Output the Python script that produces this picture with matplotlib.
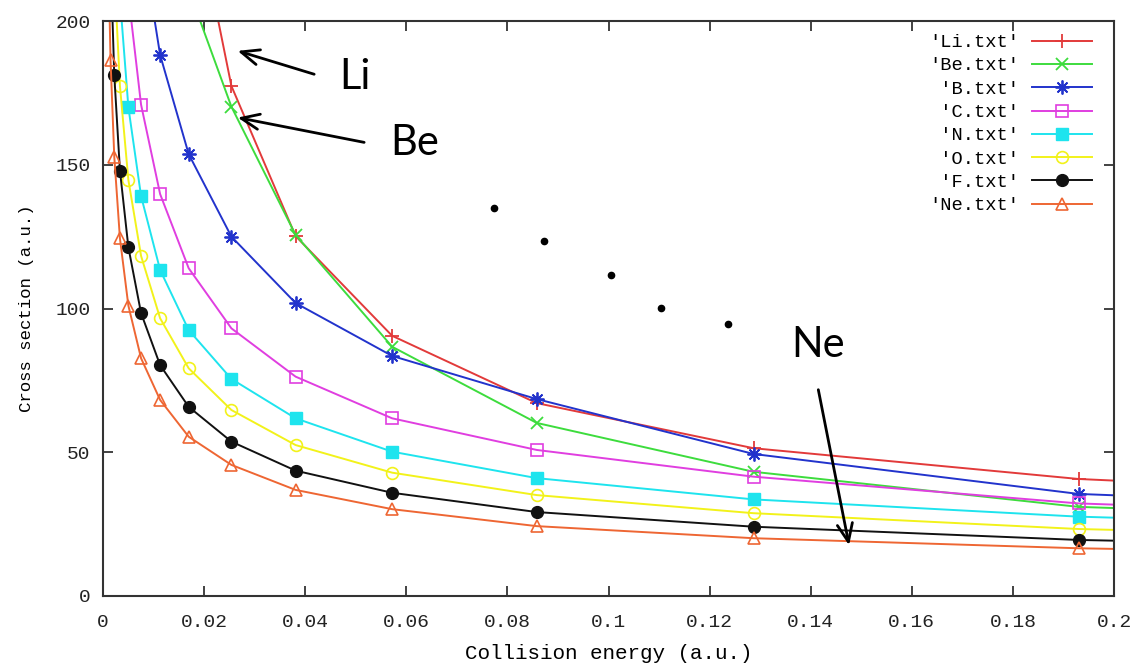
import numpy as np
import matplotlib
matplotlib.use("Agg")
import matplotlib.pyplot as plt

# collision energies (a.u.), shared by every data file
energy = [0.00099, 0.00149, 0.00223, 0.00335, 0.00502, 0.00753, 0.0113,
          0.01695, 0.0254, 0.0381, 0.0572, 0.0858, 0.1287, 0.193, 0.2895]

nan = np.nan
li_vals = [nan, nan, nan, nan, nan, nan, nan, 251, 177.4, 125.2, 90.5, 67.1, 51.4, 40.7, 33.0]
be_vals = [nan, nan, nan, nan, nan, nan, nan, 211, 170.2, 125.6, 86.7, 60.2, 43.2, 31.0, 25.4]
b_vals = [nan, nan, nan, nan, nan, 230, 188.2, 153.7, 125.0, 101.9, 83.5, 68.5, 49.4, 35.5, 29.0]
c_vals = [nan, nan, nan, nan, 209, 170.9, 139.8, 114.0, 93.1, 76.3, 61.8, 50.8, 41.5, 32.2, 26.4]
n_vals = [nan, nan, nan, 208, 170.0, 139.1, 113.4, 92.5, 75.5, 61.8, 50.2, 41.0, 33.6, 27.6, 22.6]
o_vals = [nan, nan, 217, 177.4, 144.7, 118.3, 96.6, 79.2, 64.7, 52.5, 42.9, 35.1, 28.8, 23.3, 19.1]
f_vals = [nan, 222, 181.2, 148.0, 121.3, 98.4, 80.3, 65.8, 53.7, 43.6, 35.9, 29.2, 24.1, 19.5, 16.0]
ne_vals = [228, 186.4, 152.8, 124.4, 101.0, 82.7, 68.2, 55.4, 45.6, 36.9, 30.2, 24.3, 20.1, 16.6, 13.6]

elements = ["Li", "Be", "B", "C", "N", "O", "F", "Ne"]
series = [li_vals, be_vals, b_vals, c_vals, n_vals, o_vals, f_vals, ne_vals]

# dotted trend between the Li/Be and Ne ends
dots_x = [0.0773, 0.0872, 0.1005, 0.1104, 0.1236]
dots_y = [134.9, 123.5, 111.7, 100.2, 94.6]

# gnuplot-like point styles
styles = {
    "Li": dict(color="#e23a3a", marker="+", ms=10, mfc="none", mew=1.3),
    "Be": dict(color="#3ddc3d", marker="x", ms=8, mfc="none", mew=1.3),
    "B": dict(color="#2233cc", marker=(8, 2, 0), ms=10, mfc="none", mew=1.3),
    "C": dict(color="#e03ee0", marker="s", ms=8.5, mfc="none", mew=1.2),
    "N": dict(color="#1ee4ee", marker="s", ms=8.5, mfc="#1ee4ee", mew=1.0),
    "O": dict(color="#f2f21a", marker="o", ms=8.5, mfc="none", mew=1.2),
    "F": dict(color="#111111", marker="o", ms=8.5, mfc="#111111", mew=1.0),
    "Ne": dict(color="#ee6633", marker="^", ms=8, mfc="none", mew=1.2),
}

mono = "Liberation Mono"

fig = plt.figure(figsize=(11.46, 6.68), dpi=100)
ax = fig.add_axes([103 / 1146, 1 - 596 / 668, (1114 - 103) / 1146, (596 - 21) / 668])

x = np.array(energy)
for name, vals in zip(elements, series):
    y = np.array(vals, dtype=float)
    ok = ~np.isnan(y)
    label = f"'{name}.txt'".rjust(8)
    ax.plot(x[ok], y[ok], lw=1.4, label=label, **styles[name])

ax.plot(dots_x, dots_y, ls="none", marker="o", ms=4.5, color="black")

ax.set_xlim(0, 0.2)
ax.set_ylim(0, 200)
ax.set_xticks(np.arange(0, 0.2001, 0.02))
ax.set_xticklabels(["0", "0.02", "0.04", "0.06", "0.08", "0.1", "0.12",
                    "0.14", "0.16", "0.18", "0.2"])
ax.set_yticks([0, 50, 100, 150, 200])
ax.tick_params(direction="in", length=7, width=1.2, top=True, right=True,
               labelsize=14, colors="#222222")
ax.tick_params(axis="x", pad=13)
ax.tick_params(axis="y", pad=9)
for lab in ax.get_xticklabels() + ax.get_yticklabels():
    lab.set_family(mono)
for sp in ax.spines.values():
    sp.set_linewidth(1.5)
    sp.set_color("#333333")

ax.set_xlabel("Collision energy (a.u.)", family=mono, fontsize=15, labelpad=9)
ax.set_ylabel("Cross section (a.u.)", family=mono, fontsize=12.5, labelpad=15)

leg = ax.legend(loc="upper right", bbox_to_anchor=(1092 / 1146, 1 - 34 / 668),
                bbox_transform=fig.transFigure, frameon=False, numpoints=1,
                markerfirst=False, handlelength=3.2, handletextpad=0.7,
                labelspacing=0.33, borderpad=0, borderaxespad=0,
                prop=dict(family=mono, size=13.5))

# element call-outs
arrow = dict(arrowstyle="->,head_length=1.3,head_width=0.55", lw=2.0, color="black")
ax.annotate("", xy=(0.0261, 189.9), xytext=(0.0423, 181.2), arrowprops=arrow)
ax.annotate("", xy=(0.0261, 166.6), xytext=(0.0522, 157.6), arrowprops=arrow)
ax.annotate("", xy=(0.1477, 16.7), xytext=(0.1414, 72.7), arrowprops=arrow)
ax.text(0.0498, 180.5, "Li", fontsize=30, family="Lato", ha="center", va="center")
ax.text(0.0617, 157.6, "Be", fontsize=30, family="Lato", ha="center", va="center")
ax.text(0.1414, 87.3, "Ne", fontsize=30, family="Lato", ha="center", va="center")

fig.savefig("out.png", dpi=100)
